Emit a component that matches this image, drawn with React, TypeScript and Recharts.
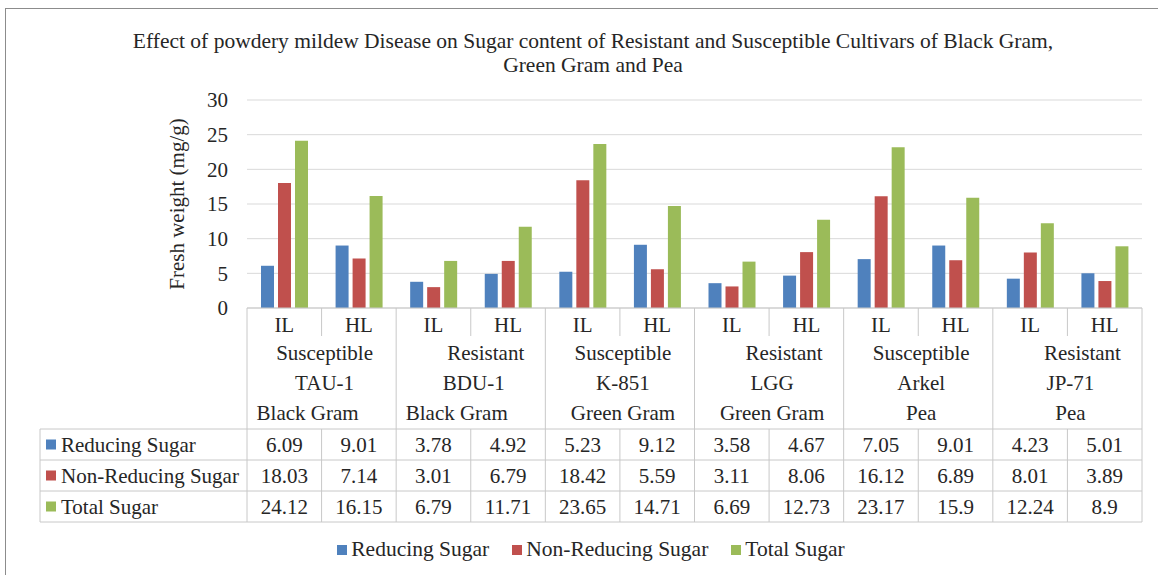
import { BarChart, Bar, XAxis, YAxis, CartesianGrid } from 'recharts';

const levels = ['IL', 'HL', 'IL', 'HL', 'IL', 'HL', 'IL', 'HL', 'IL', 'HL', 'IL', 'HL'];
const reducing = [6.09, 9.01, 3.78, 4.92, 5.23, 9.12, 3.58, 4.67, 7.05, 9.01, 4.23, 5.01];
const nonReducing = [18.03, 7.14, 3.01, 6.79, 18.42, 5.59, 3.11, 8.06, 16.12, 6.89, 8.01, 3.89];
const total = [24.12, 16.15, 6.79, 11.71, 23.65, 14.71, 6.69, 12.73, 23.17, 15.9, 12.24, 8.9];
const groups = [
  ['Susceptible', 'TAU-1', 'Black Gram'],
  ['Resistant', 'BDU-1', 'Black Gram'],
  ['Susceptible', 'K-851', 'Green Gram'],
  ['Resistant', 'LGG', 'Green Gram'],
  ['Susceptible', 'Arkel', 'Pea'],
  ['Resistant', 'JP-71', 'Pea'],
];
const yTicks = [0, 5, 10, 15, 20, 25, 30];

const series = [
  { key: 'reducing', name: 'Reducing Sugar', values: reducing, color: '#4F81BD' },
  { key: 'nonReducing', name: 'Non-Reducing Sugar', values: nonReducing, color: '#C0504D' },
  { key: 'total', name: 'Total Sugar', values: total, color: '#9BBB59' },
];

const data = levels.map((level, i) => ({
  id: i,
  level,
  reducing: reducing[i],
  nonReducing: nonReducing[i],
  total: total[i],
}));

// layout
const W = 1158;
const H = 575;
const PLOT_L = 247;
const PLOT_R = 1142;
const PLOT_T = 100;
const PLOT_B = 308;
const Y_AXIS_W = 60;
const X_AXIS_H = 30;
const TABLE_L = 40;
const ROW_H = 31;
const HEAD_B = 429;
const FONT = 'Liberation Serif, Tinos, DejaVu Serif, serif';
const TEXT = '#262626';
const LINE = '#c8c8c8';

// small nudges for Excel's wrapped header text
const lineShift: Record<string, number> = { Resistant: 15, 'Black Gram': -14 };

const band = (PLOT_R - PLOT_L) / levels.length;
const catX = (i: number) => PLOT_L + i * band;

function LevelTick(props: any) {
  const { x, y, payload } = props;
  return (
    <text x={x} y={y} dy={15} textAnchor="middle" fontSize={21} style={{ fontFamily: FONT }} fill={TEXT}>
      {levels[payload.index] ?? payload.value}
    </text>
  );
}

function Table() {
  const rowsTop = HEAD_B;
  const bottom = rowsTop + ROW_H * series.length;
  return (
    <svg
      width={W}
      height={H}
      style={{ position: 'absolute', left: 0, top: 0, pointerEvents: 'none', fontFamily: FONT }}
    >
      {/* title */}
      <text x={593} y={48} textAnchor="middle" fontSize={21.5} fill={TEXT}>
        Effect of powdery mildew Disease on Sugar content of Resistant and Susceptible Cultivars of Black Gram,
      </text>
      <text x={593} y={72} textAnchor="middle" fontSize={21.5} fill={TEXT}>
        Green Gram and Pea
      </text>
      {/* y label */}
      <text
        x={0}
        y={0}
        transform={`translate(184, 204) rotate(-90)`}
        textAnchor="middle"
        fontSize={21}
        fill={TEXT}
      >
        Fresh weight (mg/g)
      </text>

      {/* IL/HL separators */}
      {levels.map((_, i) =>
        i % 2 === 1 ? (
          <line key={'s' + i} x1={catX(i)} x2={catX(i)} y1={PLOT_B} y2={336} stroke={LINE} />
        ) : null
      )}
      {/* group separators */}
      {Array.from({ length: groups.length + 1 }, (_, g) => (
        <line
          key={'g' + g}
          x1={catX(g * 2)}
          x2={catX(g * 2)}
          y1={PLOT_B}
          y2={bottom}
          stroke={LINE}
        />
      ))}
      {/* group labels */}
      {groups.map((lines, g) =>
        lines.map((t, k) => (
          <text
            key={'gl' + g + k}
            x={catX(g * 2) + band + (lineShift[t] ?? 3)}
            y={360 + k * 30}
            textAnchor="middle"
            fontSize={21}
            fill={TEXT}
          >
            {t}
          </text>
        ))
      )}

      {/* data rows */}
      <line x1={TABLE_L} x2={TABLE_L} y1={rowsTop} y2={bottom} stroke={LINE} />
      {levels.map((_, i) =>
        i % 2 === 1 ? (
          <line key={'r' + i} x1={catX(i)} x2={catX(i)} y1={rowsTop} y2={bottom} stroke={LINE} />
        ) : null
      )}
      {Array.from({ length: series.length + 1 }, (_, r) => (
        <line
          key={'h' + r}
          x1={TABLE_L}
          x2={PLOT_R}
          y1={rowsTop + r * ROW_H}
          y2={rowsTop + r * ROW_H}
          stroke={LINE}
        />
      ))}
      {series.map((s, r) => {
        const cy = rowsTop + r * ROW_H + ROW_H / 2;
        return (
          <g key={s.key}>
            <rect x={46} y={cy - 5} width={10} height={10} fill={s.color} />
            <text x={61} y={cy + 7} fontSize={21} fill={TEXT}>
              {s.name}
            </text>
            {s.values.map((v, i) => (
              <text key={i} x={catX(i) + band / 2} y={cy + 7} textAnchor="middle" fontSize={21} fill={TEXT}>
                {String(v)}
              </text>
            ))}
          </g>
        );
      })}
    </svg>
  );
}

function Legend() {
  return (
    <div
      style={{
        position: 'absolute',
        top: 537,
        left: 0,
        width: W,
        display: 'flex',
        justifyContent: 'center',
        gap: 23,
        paddingLeft: 24,
        boxSizing: 'border-box',
        fontFamily: FONT,
        fontSize: 21.5,
        color: TEXT,
      }}
    >
      {series.map((s) => (
        <div key={s.key} style={{ display: 'flex', alignItems: 'center' }}>
          <span style={{ width: 10, height: 10, background: s.color, marginRight: 4, display: 'inline-block' }} />
          {s.name}
        </div>
      ))}
    </div>
  );
}

export default function App() {
  return (
    <div style={{ position: 'absolute', left: 0, top: 0, width: W, height: H, background: '#fff', overflow: 'hidden' }}>
      <div
        style={{
          position: 'absolute',
          left: 5,
          top: 8,
          width: W + 20,
          height: H + 20,
          border: '1px solid #8c8c8c',
        }}
      />
      <BarChart
        width={W}
        height={H}
        data={data}
        margin={{ top: PLOT_T, left: PLOT_L - Y_AXIS_W, right: W - PLOT_R, bottom: H - PLOT_B - X_AXIS_H }}
        barSize={13}
        barGap={4}
        style={{ position: 'absolute', left: 0, top: 0 }}
      >
        <CartesianGrid vertical={false} stroke="#d9d9d9" />
        <XAxis
          dataKey="id"
          height={X_AXIS_H}
          tickLine={false}
          tickSize={0}
          tickMargin={9}
          axisLine={{ stroke: LINE }}
          tick={<LevelTick />}
          interval={0}
        />
        <YAxis
          width={Y_AXIS_W}
          domain={[0, 30]}
          ticks={yTicks}
          axisLine={false}
          tickLine={false}
          tickSize={0}
          tickMargin={19}
          tick={{ fontSize: 21, fill: TEXT, style: { fontFamily: FONT } }}
        />
        {series.map((s) => (
          <Bar key={s.key} dataKey={s.key} name={s.name} fill={s.color} isAnimationActive={false} />
        ))}
      </BarChart>
      <Table />
      <Legend />
    </div>
  );
}
